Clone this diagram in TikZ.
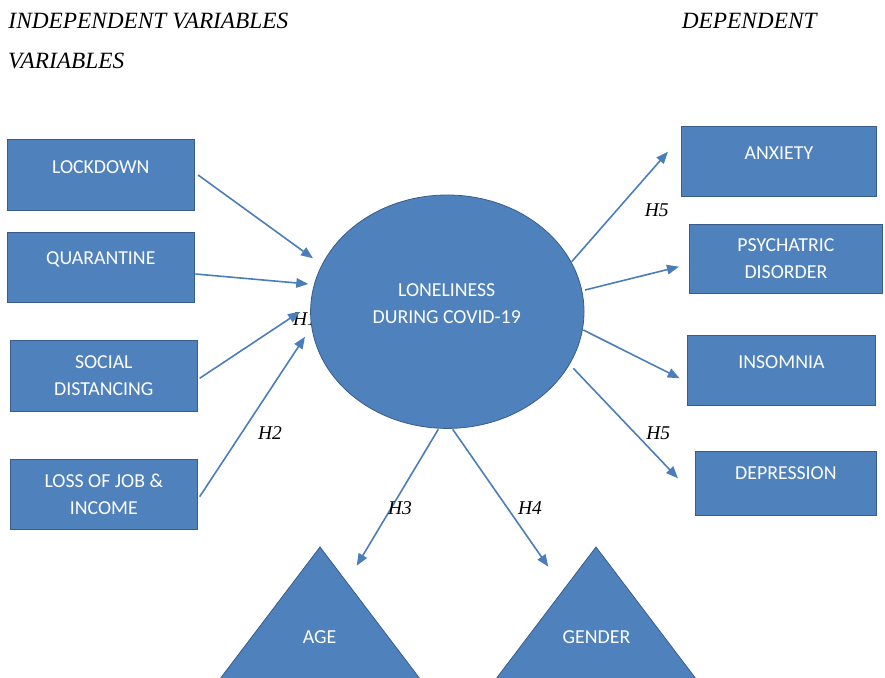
\documentclass[tikz,border=0pt]{standalone}
\usepackage{fontspec}
\setmainfont{Liberation Serif}
\newfontfamily\labelfont{Carlito}
\usetikzlibrary{shapes.geometric,arrows.meta}
\definecolor{shapefill}{HTML}{4F81BD}
\definecolor{shapeline}{HTML}{385D8A}
\definecolor{arrowblue}{HTML}{4A7EBB}
\begin{document}
\begin{tikzpicture}[x=1pt,y=-1pt,
  blueshape/.style={fill=shapefill, draw=shapeline, line width=0.8pt},
  varbox/.style={blueshape, rectangle, inner sep=0pt, text=white,
    font=\labelfont\fontsize{19.8}{26.5}\selectfont},
  oneline/.style={text height=12.75pt, text depth=#1},
  twoline/.style={align=center},
  boxtext/.style={text=white, inner sep=0pt, align=center,
    font=\labelfont\fontsize{19.8}{26.7}\selectfont},
  link/.style={draw=arrowblue, line width=1.6pt, -{Triangle[length=12pt,width=9.5pt]}},
  hyp/.style={font=\itshape\fontsize{19.5}{22}\selectfont, inner sep=0pt,
    text height=12.9pt, text depth=0pt},
  head/.style={font=\itshape\fontsize{23.3}{26}\selectfont, anchor=base west, inner sep=0pt}
]
\useasboundingbox (0,0) rectangle (885,677);
\clip (0,0) rectangle (885,677);

% column headings
\node[head] (indep) at (8.3,28.3) {INDEPENDENT VARIABLES};
\node[head] (indep2) at (8,68.3) {VARIABLES};
\node[head] (dep) at (681.7,28.3) {DEPENDENT};

% H1 sits partly behind the central ellipse
\node[hyp] (h1) at (305,319.3) {H1};

% central construct
\node[blueshape, ellipse, minimum width=273.4pt, minimum height=233.4pt, inner sep=0pt]
  (lonely) at (447.3,311.7) {};
\node[boxtext] (lonelyText) at (446.7,303.4) {LONELINESS\\DURING COVID-19};

% independent variables
\node[varbox, oneline=16pt, minimum width=187pt, minimum height=70.7pt]
  (lock) at (100.8,174.7) {LOCKDOWN};
\node[varbox, oneline=18.4pt, minimum width=187pt, minimum height=70.4pt]
  (quar) at (100.8,267.5) {QUARANTINE};
\node[varbox, twoline, minimum width=187.7pt, minimum height=70.3pt]
  (social) at (103.8,375.8) {SOCIAL\\DISTANCING};
\node[varbox, twoline, minimum width=187.7pt, minimum height=70.2pt]
  (loss) at (103.8,494.4) {LOSS OF JOB \&\\INCOME};

% dependent variables
\node[varbox, oneline=15.4pt, minimum width=194.3pt, minimum height=70pt]
  (anx) at (778.9,161) {ANXIETY};
\node[varbox, twoline, minimum width=193.7pt, minimum height=69.3pt]
  (psych) at (785.9,258.7) {PSYCHATRIC\\DISORDER};
\node[varbox, oneline=16.6pt, minimum width=187.3pt, minimum height=70pt]
  (insom) at (781.4,370) {INSOMNIA};
\node[varbox, oneline=20.6pt, minimum width=180.3pt, minimum height=64pt]
  (depr) at (785.9,483) {DEPRESSION};

% moderators (triangles run past the lower edge)
\path[blueshape] (320,547) coordinate (ageTop) -- (204,700) -- (436,700) -- cycle;
\path[blueshape] (596,547) coordinate (genTop) -- (480,700) -- (712,700) -- cycle;
\node[boxtext] (age) at (319.5,636.7) {AGE};
\node[boxtext] (gender) at (596.5,636.7) {GENDER};

% paths into the central construct
\draw[link] ([shift={(3.4,0.3)}]lock.east) -- ([shift={(-134.3,-53.4)}]lonely.center);
\draw[link] ([shift={(0.7,6.5)}]quar.east) -- ([shift={(-139,-27.7)}]lonely.center);
\draw[link] ([shift={(1.6,2.5)}]social.east) -- ([shift={(-147.3,0)}]lonely.center);
\draw[link] ([shift={(1.6,2.3)}]loss.east) -- ([shift={(-142.3,25)}]lonely.center);

% paths out of the central construct
\draw[link] ([shift={(124.4,-50)}]lonely.center) -- ([shift={(-13.4,-9.3)}]anx.west);
\draw[link] ([shift={(137.7,-21.7)}]lonely.center) -- ([shift={(-9.7,8)}]psych.west);
\draw[link] ([shift={(136,18.3)}]lonely.center) -- ([shift={(-7.7,8.3)}]insom.west);
\draw[link] ([shift={(126,56.6)}]lonely.center) -- ([shift={(-17.4,-4.7)}]depr.west);
\draw[link] ([shift={(-9,117.6)}]lonely.center) -- ([shift={(36.7,18.7)}]ageTop);
\draw[link] ([shift={(5.4,117.6)}]lonely.center) -- ([shift={(-47.7,19.7)}]genTop);

% hypothesis labels
\node[hyp] (h2) at (270,433.3) {H2};
\node[hyp] (h3) at (400,508.3) {H3};
\node[hyp] (h4) at (530,508.3) {H4};
\node[hyp] (h5a) at (656.7,210) {H5};
\node[hyp] (h5b) at (658.3,433.3) {H5};
\end{tikzpicture}
\end{document}
